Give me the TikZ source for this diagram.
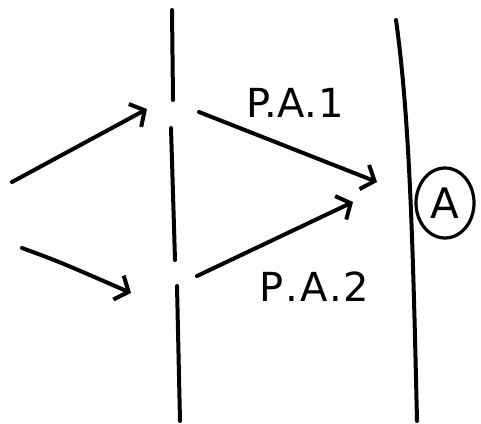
\documentclass[tikz,border=0pt]{standalone}
\usepackage{fontspec}
\setmainfont{DejaVu Sans}
\usetikzlibrary{arrows.meta,shapes.geometric}
\begin{document}
\begin{tikzpicture}[x=1pt,y=-1pt,
  ink/.style={line width=4pt,line cap=round,black},
  ray/.style={ink,-{Straight Barb[length=11pt,width=26pt,line width=4pt]}},
  lbl/.style={font=\fontsize{40}{40}\selectfont},
  circ/.style={ellipse,draw,line width=3.2pt,minimum width=58pt,minimum height=70pt,inner sep=0pt,font=\fontsize{42}{42}\selectfont}]
\useasboundingbox (0,0) rectangle (481,423);
% slit screen
\draw[ink] (172,10) -- (173,100);
\draw[ink] (171,128) -- (175,260);
\draw[ink] (177,286) -- (180,421);
% detection screen
\draw[ink] (396,20) .. controls (410,120) and (413,250) .. (417,421);
% coordinates
\coordinate (s1) at (12,182);
\coordinate (t1) at (147,109);
\coordinate (s2) at (22,248);
\coordinate (t2) at (131,293);
\coordinate (s3) at (199,112);
\coordinate (t3) at (377,182);
\coordinate (s4) at (197,276);
\coordinate (t4) at (353,202);
\draw[ray] (s1) -- (t1);
\draw[ray] (s2) .. controls (60,262) .. (t2);
\draw[ray] (s3) -- (t3);
\draw[ray] (s4) -- (t4);
\node[lbl] (pa1) at (295,103) {P.\hspace{1pt}A.\hspace{1pt}1};
\node[lbl] (pa2) at (314,287) {P\hspace{2pt}.\hspace{2pt}A\hspace{2pt}.\hspace{1pt}2};
\node[circ] (A) at (445,203) {A};
\end{tikzpicture}
\end{document}
